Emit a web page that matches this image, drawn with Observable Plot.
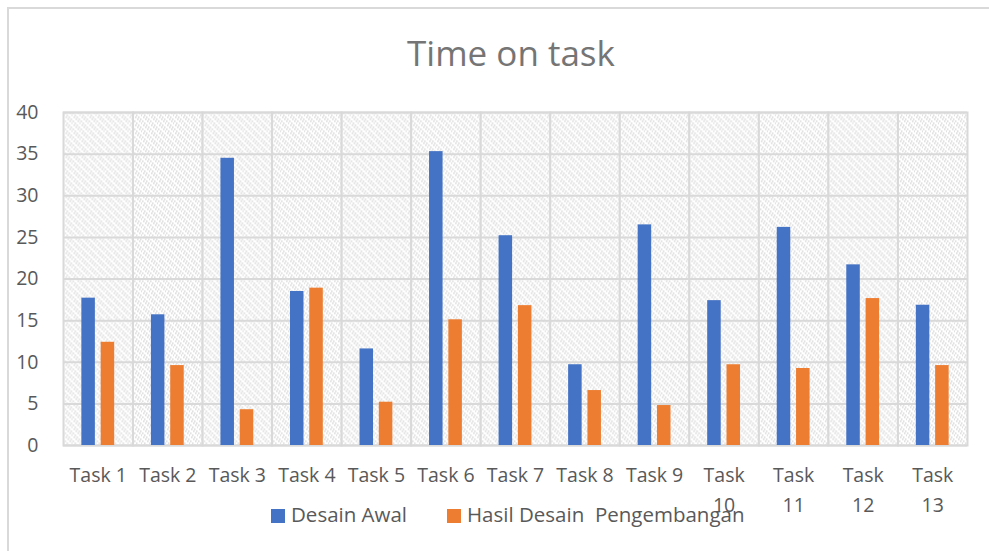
<!DOCTYPE html>
<html><head><meta charset="utf-8">
<script src="https://cdn.jsdelivr.net/npm/d3@7"></script>
<script src="https://cdn.jsdelivr.net/npm/@observablehq/plot@0.6"></script>
<style>
body{margin:0;background:#fff;font-family:"Open Sans",sans-serif;}
#wrap{position:relative;width:989px;height:551px;overflow:hidden;background:#fff;}
#border{position:absolute;left:7px;top:7px;width:1100px;height:700px;border-left:2px solid #d9d9d9;border-top:2px solid #d9d9d9;}
#chart{position:absolute;left:0;top:0;}
#title{position:absolute;left:311px;width:400px;top:35px;text-align:center;font-size:35px;line-height:35px;color:#757575;}
.leg{position:absolute;top:504px;font-size:20.5px;line-height:20px;color:#595959;white-space:pre;}
.sw{position:absolute;top:509px;width:14px;height:14px;}
</style></head>
<body>
<div id="wrap">
  <div id="border"></div>
  <div id="chart"></div>
  <div id="title">Time on task</div>
  <div id="legend"></div>
</div>
<script>
const tasks = ["Task 1","Task 2","Task 3","Task 4","Task 5","Task 6","Task 7","Task 8","Task 9","Task 10","Task 11","Task 12","Task 13"];
const desainAwal = [17.7,15.7,34.5,18.5,11.6,35.3,25.2,9.7,26.5,17.4,26.2,21.7,16.85];
const hasilPengembangan = [12.4,9.6,4.3,18.9,5.2,15.1,16.8,6.6,4.8,9.7,9.25,17.65,9.6];
const seriesNames = ["Desain Awal","Hasil Desain  Pengembangan"];
const seriesColors = ["#4472C4","#ED7D31"];
const yTicks = [0,5,10,15,20,25,30,35,40];

const rows = [];
tasks.forEach((t,i)=>{
  rows.push({task:t, series:seriesNames[0], value:desainAwal[i]});
  rows.push({task:t, series:seriesNames[1], value:hasilPengembangan[i]});
});

const chart = Plot.plot({
  width:989, height:551,
  marginTop:112, marginBottom:106, marginLeft:63, marginRight:22,
  style:{fontFamily:"Open Sans", fontSize:"19px", color:"#595959", background:"transparent", overflow:"visible"},
  fx:{domain:tasks, padding:0, round:false, label:null, axis:null},
  x:{domain:seriesNames, paddingInner:0.3, paddingOuter:0.95, round:false, axis:null},
  y:{domain:[0,40], axis:null},
  color:{domain:seriesNames, range:seriesColors},
  marks:[
    Plot.frame({fill:"url(#hatch)", stroke:"#d9d9d9", strokeWidth:2}),
    Plot.gridY(yTicks,{stroke:"#d9d9d9", strokeOpacity:1, strokeWidth:2}),
    Plot.barY(rows,{fx:"task", x:"series", y:"value", fill:"series"}),
    Plot.axisY(yTicks,{tickSize:0, tickPadding:25, fontSize:19.5, fill:"#595959", label:null}),
    Plot.axisFx({anchor:"bottom", tickSize:0, tickPadding:16, fontSize:19.5, fill:"#595959", lineHeight:1.5, label:null,
      tickFormat:d => d.length > 6 ? d.replace(" ", "\n") : d})
  ]
});

const svg = d3.select(chart);
const defs = svg.insert("defs", ":first-child");
const pat = defs.append("pattern").attr("id","hatch").attr("patternUnits","userSpaceOnUse")
  .attr("width",8).attr("height",8);
pat.append("rect").attr("width",8).attr("height",8).attr("fill","#ffffff");
[[0,0],[2,2],[4,4],[6,6],[5,0],[7,2],[1,4],[3,6]].forEach(([a,b])=>{
  pat.append("rect").attr("x",a).attr("y",b).attr("width",1.5).attr("height",1.5).attr("fill","#d6d6d6");
});
document.getElementById("chart").appendChild(chart);

const legend = document.getElementById("legend");
const legPos = [[271,291],[447,467]];
seriesNames.forEach((s,i)=>{
  const sw = document.createElement("div");
  sw.className="sw"; sw.style.left=legPos[i][0]+"px"; sw.style.background=seriesColors[i];
  legend.appendChild(sw);
  const tx = document.createElement("div");
  tx.className="leg"; tx.style.left=legPos[i][1]+"px"; tx.textContent=s;
  legend.appendChild(tx);
});
</script>
</body></html>
